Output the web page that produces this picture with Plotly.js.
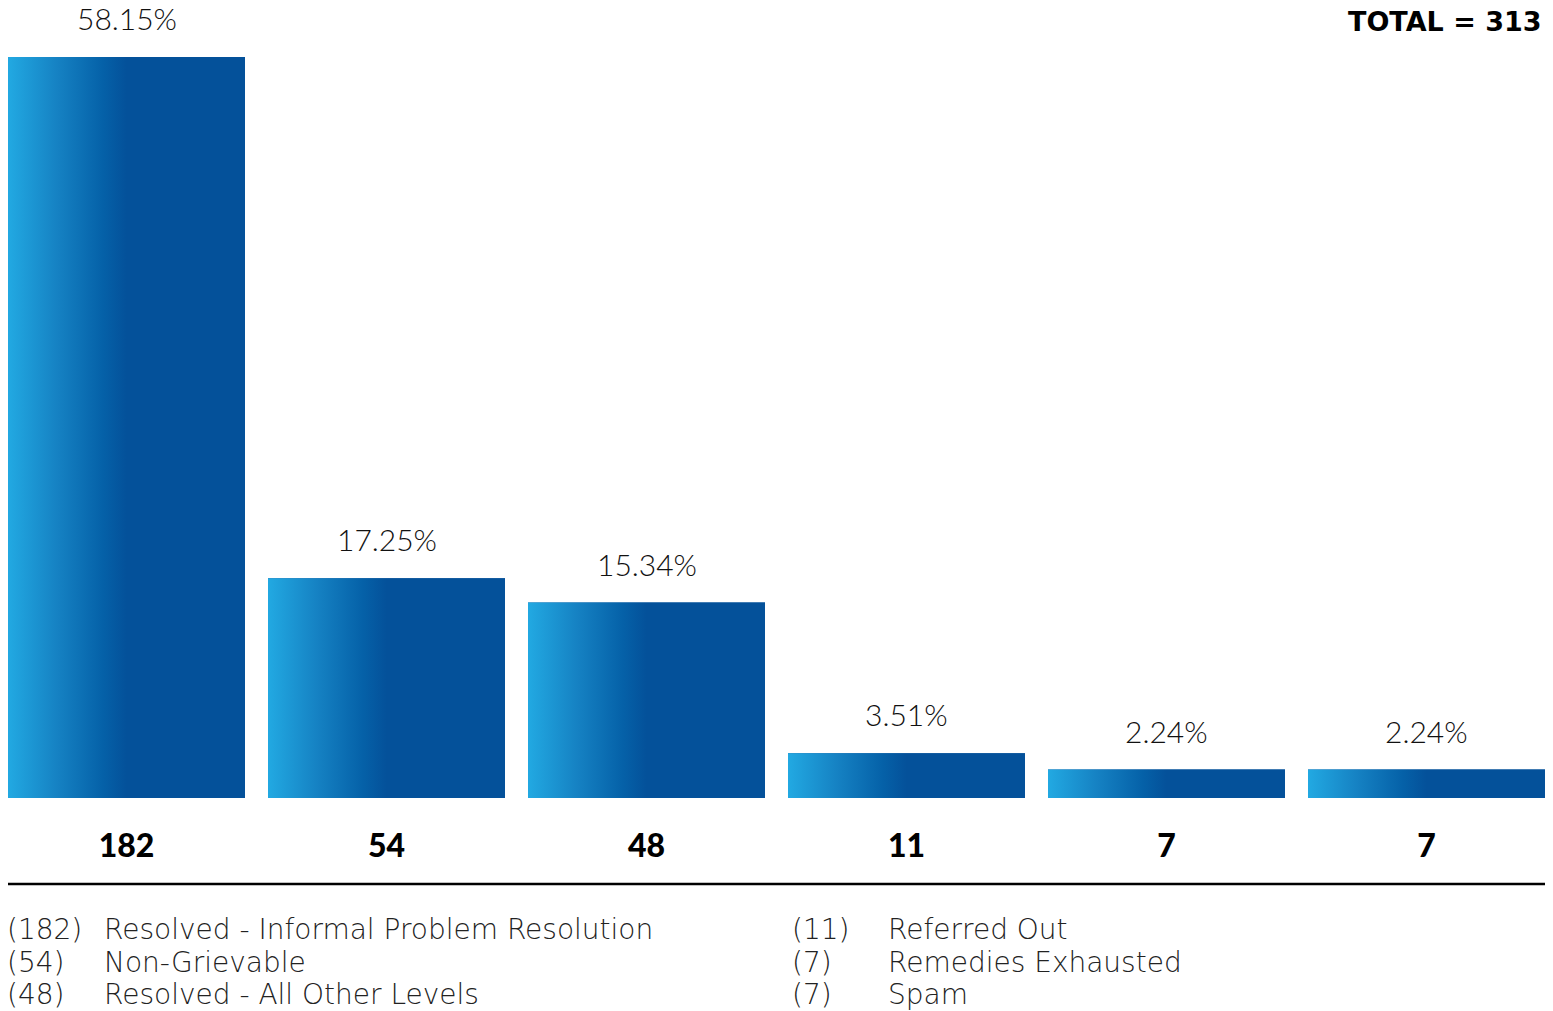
<!DOCTYPE html>
<html>
<head>
<meta charset="utf-8">
<script src="https://cdn.plot.ly/plotly-3.0.1.min.js"></script>
<style>
  html, body { margin: 0; padding: 0; background: #ffffff; }
  #chart { width: 1553px; height: 1011px; }
</style>
</head>
<body>
<div id="chart"></div>
<script>
// ---- data ----
const categories = [
  "Resolved - Informal Problem Resolution",
  "Non-Grievable",
  "Resolved - All Other Levels",
  "Referred Out",
  "Remedies Exhausted",
  "Spam"
];
const counts = [182, 54, 48, 11, 7, 7];
const pctLabels = ["58.15%", "17.25%", "15.34%", "3.51%", "2.24%", "2.24%"];
const totalLabel = "TOTAL = 313";

// ---- styling ----
const LIGHT_FONT = "Lato, 'Open Sans', 'Noto Sans', sans-serif";
const LEGEND_FONT = "'DejaVu Sans', Lato, sans-serif";
const DARK = "#04519A";
const gradScale = [[0, "#22A9E2"], [0.2, "#1683C4"], [0.4, "#0561A8"], [0.5, DARK], [1, DARK]];
const BARGAP = 0.0885;
const half = (1 - BARGAP) / 2;

const xs = counts.map((_, i) => i);

const traces = [{
  type: "bar",
  x: xs,
  y: counts,
  marker: { color: DARK, line: { width: 0 } },
  hoverinfo: "skip",
  showlegend: false
}];

// gradient overlays built from the same data
counts.forEach((v, i) => {
  traces.push({
    type: "scatter",
    mode: "lines",
    x: [i - half, i + half, i + half, i - half, i - half],
    y: [0, 0, v, v, 0],
    fill: "toself",
    fillgradient: { type: "horizontal", colorscale: gradScale },
    line: { width: 0, color: "rgba(0,0,0,0)" },
    hoverinfo: "skip",
    showlegend: false
  });
});

const annotations = [];
// percentage labels above bars
counts.forEach((v, i) => {
  annotations.push({
    x: i, y: v, xref: "x", yref: "y",
    text: pctLabels[i], showarrow: false,
    yanchor: "middle", yshift: 39,
    font: { family: LIGHT_FONT, size: 30, color: "#111111", weight: 300 }
  });
});
// total label
annotations.push({
  x: 1, y: 1, xref: "paper", yref: "paper",
  xanchor: "right", yanchor: "middle", yshift: -21, xshift: -1,
  text: totalLabel, showarrow: false,
  font: { family: "'DejaVu Sans', sans-serif", size: 27, color: "#000000", weight: 700 }
});
// legend rows (text)
const legendRowsPx = [131, 164, 196];
counts.forEach((v, i) => {
  const col = i < 3 ? 0 : 1;
  const row = i % 3;
  const parenX = col === 0 ? 0 : 0.5107;
  const nameX = col === 0 ? 0.0631 : 0.5732;
  annotations.push({
    x: parenX, y: 0, xref: "paper", yref: "paper",
    xanchor: "left", yanchor: "middle", yshift: -legendRowsPx[row], xshift: -2,
    text: "(" + v + ")", showarrow: false, borderpad: 0,
    font: { family: LEGEND_FONT, size: 28, color: "#222222", weight: 200 }
  });
  annotations.push({
    x: nameX, y: 0, xref: "paper", yref: "paper",
    xanchor: "left", yanchor: "middle", yshift: -legendRowsPx[row], xshift: -2,
    text: categories[i], showarrow: false, borderpad: 0,
    font: { family: LEGEND_FONT, size: 28, color: "#222222", weight: 200 }
  });
});

const layout = {
  width: 1553,
  height: 1011,
  margin: { l: 8, r: 8, t: 0, b: 213 },
  paper_bgcolor: "#ffffff",
  plot_bgcolor: "#ffffff",
  bargap: BARGAP,
  showlegend: false,
  xaxis: {
    range: [-0.4558, 5.4558],
    tickvals: xs,
    ticktext: counts.map(String),
    tickfont: { family: LIGHT_FONT, size: 32, color: "#000000", weight: 900 },
    ticks: "",
    ticklabelstandoff: 26,
    showgrid: false, zeroline: false, showline: false,
    fixedrange: true
  },
  yaxis: {
    range: [0, 196],
    visible: false,
    showgrid: false, zeroline: false,
    fixedrange: true
  },
  shapes: [{
    type: "line", xref: "paper", yref: "paper",
    x0: 0, x1: 1, y0: -86 / 798, y1: -86 / 798,
    line: { color: "#000000", width: 2.5 }
  }],
  annotations: annotations
};

Plotly.newPlot("chart", traces, layout, { displayModeBar: false, staticPlot: true });
</script>
</body>
</html>
